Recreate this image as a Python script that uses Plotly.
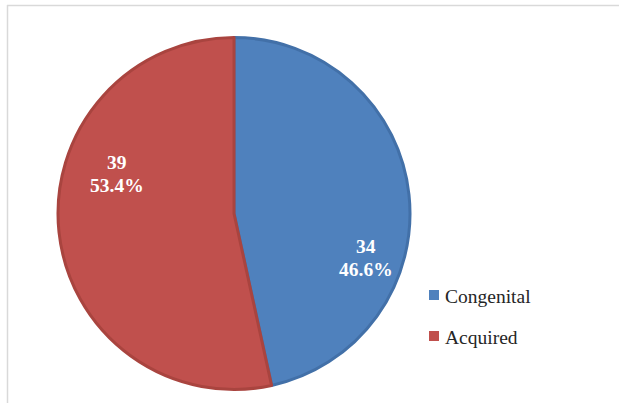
import plotly.graph_objects as go

# Data
categories = ["Congenital", "Acquired"]
counts = [34, 39]
percents = [46.6, 53.4]

fill_colors = ["#4F81BD", "#C0504D"]
edge_colors = ["#4270A8", "#A9443F"]

LEGEND_FONT = "Times New Roman"
LABEL_FONT = "serif"
TEXT_SIZE = 19.5

W, H = 619, 403

fig = go.Figure()
fig.add_trace(go.Pie(
    labels=categories,
    values=counts,
    sort=False,
    direction="clockwise",
    rotation=0,
    textinfo="none",
    hoverinfo="label+value+percent",
    showlegend=False,
    marker=dict(colors=fill_colors, line=dict(color=edge_colors, width=3)),
    domain=dict(x=[(234 - 176) / W, (234 + 176) / W],
                y=[(H - 389.5) / H, (H - 37.5) / H]),
))

# Slice labels: count on the first line, share on the second
label_pos = {  # pixel centres (x, y of count line, y of percent line)
    "Congenital": (366, 246, 269),
    "Acquired": (117, 163, 185),
}
annotations = []
for cat, n, p in zip(categories, counts, percents):
    x, y1, y2 = label_pos[cat]
    for txt, yy in ((str(n), y1), (f"{p:.1f}%", y2)):
        annotations.append(dict(
            x=x / W, y=1 - yy / H, xref="paper", yref="paper",
            text=txt, showarrow=False,
            xanchor="center", yanchor="middle",
            font=dict(family=LABEL_FONT, size=TEXT_SIZE, color="white",
                      weight="bold"),
        ))

# Legend drawn as swatches plus text
shapes = []
legend_rows = [295, 336]
for cat, col, yy in zip(categories, fill_colors, legend_rows):
    shapes.append(dict(
        type="rect", xref="paper", yref="paper",
        x0=429 / W, x1=439 / W, y0=1 - (yy + 5) / H, y1=1 - (yy - 5) / H,
        fillcolor=col, line=dict(width=0),
    ))
    annotations.append(dict(
        x=443 / W, y=1 - (yy + 1) / H, xref="paper", yref="paper",
        text=cat, showarrow=False, xanchor="left", yanchor="middle",
        font=dict(family=LEGEND_FONT, size=TEXT_SIZE, color="#262626"),
    ))

# Chart frame (top and left edges visible)
shapes.append(dict(type="line", xref="paper", yref="paper",
                   x0=7 / W, x1=1, y0=1 - 5.5 / H, y1=1 - 5.5 / H,
                   line=dict(color="#D9D9D9", width=1.5)))
shapes.append(dict(type="line", xref="paper", yref="paper",
                   x0=7.5 / W, x1=7.5 / W, y0=0, y1=1 - 5 / H,
                   line=dict(color="#D9D9D9", width=1.5)))

fig.update_layout(
    width=W, height=H,
    margin=dict(l=0, r=0, t=0, b=0),
    paper_bgcolor="white",
    plot_bgcolor="white",
    annotations=annotations,
    shapes=shapes,
)

fig.write_html("out.html")
